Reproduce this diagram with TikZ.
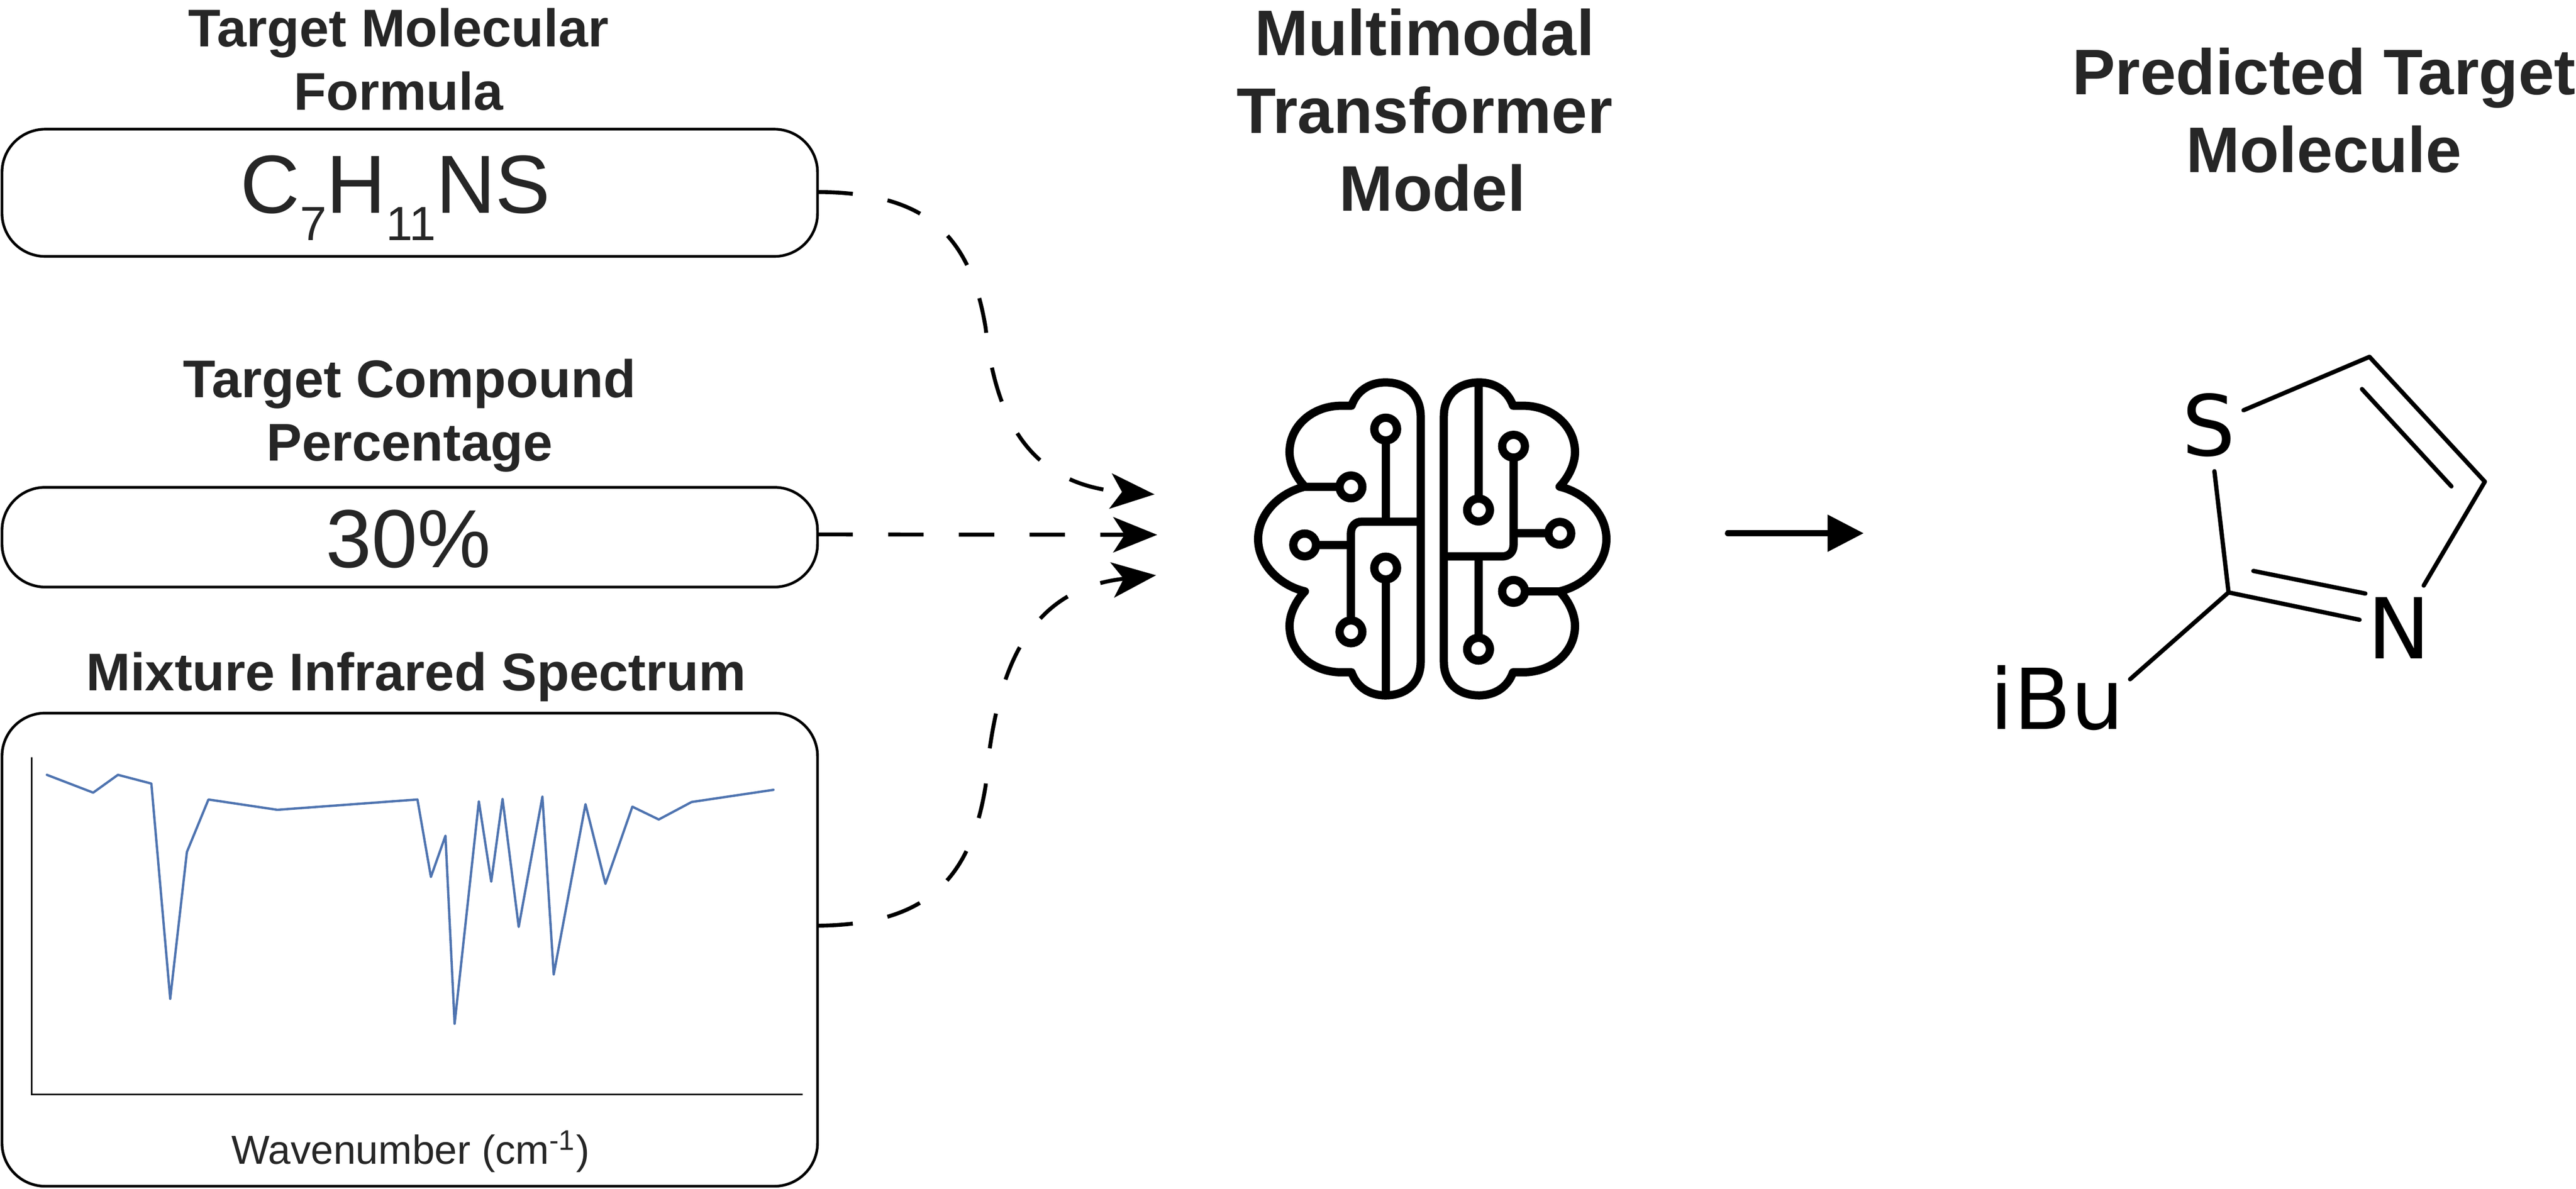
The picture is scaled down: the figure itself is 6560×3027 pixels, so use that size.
\documentclass[tikz,border=0pt]{standalone}
\usepackage{fontspec}
\setmainfont{Liberation Sans}
\newfontfamily\atomfont{DejaVu Sans}
\usetikzlibrary{arrows.meta}
\definecolor{ink}{HTML}{262626}
\definecolor{specblue}{HTML}{4F74B0}
\tikzset{
  ttlsmall/.style={align=center,inner sep=0pt,text=ink,font=\fontsize{13.5}{16.1}\selectfont\bfseries},
  ttlbig/.style={align=center,inner sep=0pt,text=ink,font=\fontsize{16.4}{19.8}\selectfont\bfseries},
  inputbox/.style={draw=black,line width=0.68pt,rounded corners=11pt,minimum width=207.7pt,inner sep=0pt,outer sep=0pt},
  valtext/.style={inner sep=0pt,text=ink,font=\fontsize{21}{21}\selectfont,anchor=base},
  dashconn/.style={line width=1pt,dash pattern=on 9pt off 9pt,-{Stealth[length=11.2pt,width=9pt,inset=2.9pt]}},
  brainline/.style={line width=2.1pt,line join=round},
  brainhub/.style={line width=2.1pt,fill=white},
  ghost/.style={inner sep=0pt,outer sep=0pt},
  bond/.style={line width=1.1pt,line cap=round,line join=round},
  atom/.style={inner sep=0pt,outer sep=0pt,font=\atomfont\fontsize{21.4}{21.4}\selectfont}
}
\begin{document}
\begin{tikzpicture}[x=0.1pt,y=-0.1pt]
\useasboundingbox (0,0) rectangle (6560,3027);
% titles
\node[ttlsmall] (t1) at (1015,167) {\strut Target Molecular\\\strut Formula};
\node[ttlsmall] (t2) at (1043,1061) {\strut Target Compound\\\strut Percentage};
\node[ttlsmall] (t3) at (1060,1726) {\strut Mixture Infrared Spectrum};
\node[ttlbig] (t4) at (3628,300) {\strut Multimodal\\\strut Transformer\\\hspace*{4pt}\strut Model};
\node[ttlbig] (t5) at (5918,300) {\strut Predicted Target\\\strut Molecule};
% boxes
\node[inputbox,minimum height=32.4pt] (box1) at (1043.5,491) {};
\node[inputbox,minimum height=25.4pt] (box2) at (1043.5,1368) {};
\node[inputbox,minimum height=120.5pt] (box3) at (1043.5,2418.5) {};
\node[valtext] (v1) at (1007,542) {C\raisebox{-7pt}{\fontsize{12.2}{12.2}\selectfont 7}H\raisebox{-7pt}{\fontsize{12.2}{12.2}\selectfont 1\kern-0.9pt 1}NS};
\node[valtext] (v2) at (1040,1445) {30\%};
\node[inner sep=0pt,text=ink,font=\fontsize{10.3}{10.3}\selectfont,anchor=base] (xlab) at (1046,2965) {Wavenumber (cm\textsuperscript{-1})};
% spectrum
\begin{scope}[shift={(0,1780)},x=0.13717pt,y=-0.07955pt]
\draw[line width=0.4pt,black] (59,187) -- (59,1267) -- (1490,1267);
\draw[specblue,line width=0.6pt,line join=round,line cap=round]
 (87,243) -- (173,300) -- (219,243) -- (281,271) -- (316,960) -- (347,490) -- (387,322) -- (515,355) -- (775,322) -- (800,570) -- (827,438) -- (844,1040) -- (889,328) -- (912,585) -- (933,320) -- (963,730) -- (1007,313) -- (1028,882) -- (1087,337) -- (1124,592) -- (1174,345) -- (1223,386) -- (1284,330) -- (1436,291);
\end{scope}
% brain
\node[ghost,minimum width=150pt,minimum height=82pt] (brain) at (3650,1358) {};
\begin{scope}[shift={(3100,900)},x=0.07018pt,y=-0.06061pt]
\draw[brainline] (738,265) .. controls (738,180) and (690,122) .. (610,122)
 .. controls (550,122) and (505,160) .. (487,220) -- (450,220)
 .. controls (345,220) and (262,305) .. (262,415)
 .. controls (262,465) and (285,520) .. (318,560)
 .. controls (225,585) and (148,675) .. (148,780)
 .. controls (148,885) and (225,975) .. (318,1000)
 .. controls (285,1040) and (262,1095) .. (262,1145)
 .. controls (262,1255) and (345,1340) .. (450,1340) -- (487,1340)
 .. controls (505,1400) and (550,1437) .. (610,1437)
 .. controls (690,1437) and (738,1380) .. (738,1295) -- cycle;
\draw[brainline] (318,561) -- (485,561);
\draw[brainline] (611,318) -- (611,707);
\draw[brainline] (738,707) -- (525,707) .. controls (500,707) and (485,727) .. (485,755) -- (485,1170);
\draw[brainline] (317,805) -- (485,805);
\draw[brainline] (611,902) -- (611,1437);
\foreach \p in {(485,561),(611,318),(317,805),(485,1170),(611,902)} \draw[brainhub] \p circle[radius=2.9pt];
\draw[brainline] (822,265) .. controls (822,180) and (870,122) .. (950,122)
 .. controls (1010,122) and (1055,160) .. (1073,220) -- (1110,220)
 .. controls (1215,220) and (1298,305) .. (1298,415)
 .. controls (1298,465) and (1275,520) .. (1242,560)
 .. controls (1335,585) and (1412,675) .. (1412,780)
 .. controls (1412,885) and (1335,975) .. (1242,1000)
 .. controls (1275,1040) and (1298,1095) .. (1298,1145)
 .. controls (1298,1255) and (1215,1340) .. (1110,1340) -- (1073,1340)
 .. controls (1055,1400) and (1010,1437) .. (950,1437)
 .. controls (870,1437) and (822,1380) .. (822,1295) -- cycle;
\draw[brainline] (948,122) -- (948,658);
\draw[brainline] (1075,390) -- (1075,805) .. controls (1075,833) and (1060,853) .. (1035,853) -- (822,853);
\draw[brainline] (1075,756) -- (1243,756);
\draw[brainline] (948,853) -- (948,1243);
\draw[brainline] (1075,1000) -- (1242,1000);
\foreach \p in {(948,658),(1075,390),(1243,756),(948,1243),(1075,1000)} \draw[brainhub] \p circle[radius=2.9pt];
\end{scope}
% connectors
\coordinate (tipa) at (2940,1259);
\coordinate (tipb) at (2947,1362);
\coordinate (tipc) at (2944,1465);
\draw[dashconn] ([yshift=0.2pt]box1.east) .. controls (2350,490) and (2470,590) .. (2510,835)
  .. controls (2535,1065) and (2620,1235) .. (tipa);
\draw[dashconn] ([yshift=0.7pt]box2.east) -- (tipb);
\draw[dashconn] ([yshift=6.1pt]box3.east) .. controls (2350,2355) and (2470,2250) .. (2510,2001)
  .. controls (2535,1700) and (2620,1500) .. (tipc);
% molecule
\node[ghost,minimum width=140.8pt,minimum height=100pt] (mol) at (5450,1358) {};
\draw[line width=1.5pt,line cap=round,-{Triangle[length=9.2pt,width=9.1pt]}] (brain.east) -- (mol.west);
\begin{scope}[shift={(4900,800)},x=0.0957pt,y=-0.07018pt]
\node[atom,minimum width=17.6pt,minimum height=23.6pt] (S) at (758,402) {S};
\node[atom,minimum width=20pt,minimum height=21.6pt] (N) at (1263,1139) {N};
\node[atom,anchor=base] (iBu) at (354,1507) {iBu};
\coordinate (c5) at (1185,155);
\coordinate (c4) at (1492,608);
\coordinate (c2) at (810,1010);
\coordinate (d1) at (1165,272);
\coordinate (d2) at (1403,625);
\coordinate (d3) at (876,932);
\coordinate (d4) at (1174,1014);
\coordinate (sub) at (548,1325);
\draw[bond] (S) -- (c5) -- (c4) -- (N);
\draw[bond] (S) -- (c2) -- (N);
\draw[bond] (d1) -- (d2);
\draw[bond] (d3) -- (d4);
\draw[bond] (c2) -- (sub);
\end{scope}
\end{tikzpicture}
\end{document}
